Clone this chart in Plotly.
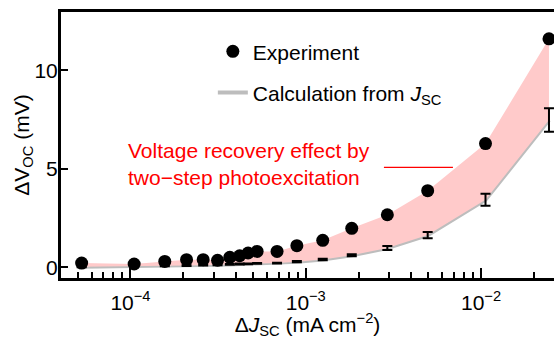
import plotly.graph_objects as go

# Data
djsc = [5.27e-5, 1.05e-4, 1.57e-4, 2.09e-4, 2.60e-4, 3.14e-4, 3.69e-4, 4.20e-4, 4.69e-4,
        5.28e-4, 6.86e-4, 8.90e-4, 1.25e-3, 1.83e-3, 2.92e-3, 4.96e-3, 1.06e-2, 2.44e-2]
dvoc_exp = [0.22, 0.17, 0.30, 0.39, 0.39, 0.36, 0.51, 0.59, 0.73,
            0.81, 0.81, 1.10, 1.37, 1.98, 2.67, 3.89, 6.28, 11.6]
dvoc_calc = [0.03, 0.05, 0.07, 0.09, 0.11, 0.13, 0.15, 0.17, 0.18,
             0.20, 0.22, 0.29, 0.40, 0.61, 0.98, 1.64, 3.43, 7.48]
calc_err = [0.02, 0.02, 0.02, 0.02, 0.02, 0.02, 0.02, 0.02, 0.02,
            0.02, 0.02, 0.03, 0.04, 0.05, 0.10, 0.16, 0.30, 0.60]

x_tickvals = [1e-4, 1e-3, 1e-2]
x_ticktext = ["10<sup>\u22124</sup>", "10<sup>\u22123</sup>", "10<sup>\u22122</sup>"]
x_minor = [5e-5, 6e-5, 7e-5, 8e-5, 9e-5,
           2e-4, 3e-4, 4e-4, 5e-4, 6e-4, 7e-4, 8e-4, 9e-4,
           2e-3, 3e-3, 4e-3, 5e-3, 6e-3, 7e-3, 8e-3, 9e-3, 2e-2]
y_tickvals = [0, 5, 10]

FONT = "Liberation Sans, Arial, sans-serif"
FS = 21
PINK = "#ffcaca"
GRAY = "#bdbdbd"

fig = go.Figure()

# gray calculation line (below the fill, acting like a shadow edge)
fig.add_trace(go.Scatter(
    x=djsc, y=dvoc_calc, mode="lines",
    line=dict(color=GRAY, width=4),
    name="Calculation from <i>J</i><sub>SC</sub>",
    legendgroup="b", legendrank=2, showlegend=True))

# pink region between experiment and calculation
fig.add_trace(go.Scatter(
    x=djsc + djsc[::-1], y=dvoc_exp + dvoc_calc[::-1],
    mode="lines", line=dict(width=0, color=PINK),
    fill="toself", fillcolor=PINK, hoverinfo="skip", showlegend=False))

# error bars of calculation
fig.add_trace(go.Scatter(
    x=djsc, y=dvoc_calc, mode="markers",
    marker=dict(size=1, color="rgba(0,0,0,0)"),
    error_y=dict(type="data", array=calc_err, color="black", thickness=2, width=5),
    showlegend=False))

# experiment points
fig.add_trace(go.Scatter(
    x=djsc, y=dvoc_exp, mode="markers",
    marker=dict(size=13, color="black"),
    name="Experiment", legendgroup="a", legendrank=1))

# red annotation
fig.add_annotation(x=0.132, y=0.4786, xref="paper", yref="paper",
                   text="Voltage recovery effect by", showarrow=False,
                   xanchor="left", yanchor="middle",
                   font=dict(family=FONT, size=FS, color="#ff0000"))
fig.add_annotation(x=0.132, y=0.3786, xref="paper", yref="paper",
                   text="two\u2212step photoexcitation", showarrow=False,
                   xanchor="left", yanchor="middle",
                   font=dict(family=FONT, size=FS, color="#ff0000"))
fig.add_shape(type="line", xref="paper", yref="paper",
              x0=0.655, x1=0.795, y0=0.416, y1=0.416,
              line=dict(color="#ff0000", width=1.3))

fig.update_layout(
    width=554, height=339,
    margin=dict(l=61, r=0, t=12, b=61),
    paper_bgcolor="white", plot_bgcolor="white",
    font=dict(family=FONT, size=FS, color="black"),
    showlegend=True,
    legend=dict(x=0.308, y=0.928, xanchor="left", yanchor="top",
                bgcolor="rgba(0,0,0,0)", tracegroupgap=11,
                font=dict(family=FONT, size=FS, color="black")),
    xaxis=dict(
        type="log", range=[-4.396, -1.584],
        tickvals=x_tickvals, ticktext=x_ticktext,
        ticks="inside", ticklen=10, tickwidth=2, tickcolor="black",
        showline=True, linecolor="black", linewidth=3, mirror=True,
        showgrid=False, zeroline=False,
        ticklabelstandoff=4,
        tickfont=dict(family=FONT, size=FS),
        minor=dict(tickvals=x_minor, ticks="inside", ticklen=6, tickwidth=2,
                   tickcolor="black", showgrid=False),
        title=dict(text="\u0394<i>J</i><sub>SC</sub> (mA cm<sup>\u22122</sup>)",
                   font=dict(family=FONT, size=FS), standoff=2),
    ),
    yaxis=dict(
        range=[-0.54, 12.96],
        tickvals=y_tickvals,
        ticks="inside", ticklen=7, tickwidth=2, tickcolor="black",
        showline=True, linecolor="black", linewidth=3, mirror=False,
        showgrid=False, zeroline=False,
        ticklabelstandoff=-4,
        tickfont=dict(family=FONT, size=FS),
        title=dict(text="\u0394V<sub>OC</sub> (mV)",
                   font=dict(family=FONT, size=FS), standoff=0),
    ),
)

fig.write_html("out.html")
